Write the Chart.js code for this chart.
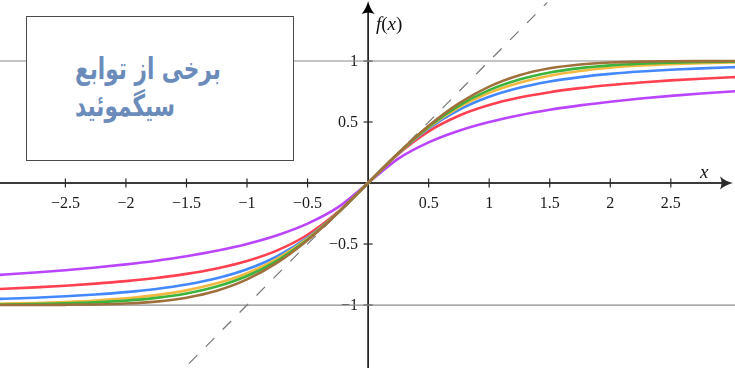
<!DOCTYPE html>
<html lang="fa">
<head>
    <meta charset="UTF-8">
    <title>Sigmoid functions</title>
    <script src="https://cdn.jsdelivr.net/npm/chart.js"></script>
    <style>
        * {
            margin: 0;
            padding: 0;
            box-sizing: border-box;
        }
        body {
            width: 735px;
            height: 368px;
            overflow: hidden;
            background: #fff;
        }
        .wrap {
            position: relative;
            width: 735px;
            height: 368px;
        }
        canvas {
            position: absolute;
            left: 0;
            top: 0;
        }
        .box {
            position: absolute;
            left: 26px;
            top: 16px;
            width: 268px;
            height: 145px;
            border: 1.5px solid #4a4a4a;
            background: #fff;
        }
        .box p {
            position: absolute;
            left: 48px;
            top: 33px;
            direction: rtl;
            text-align: left;
            font-family: 'DejaVu Sans', sans-serif;
            font-weight: bold;
            font-size: 30px;
            line-height: 37px;
            color: #6b8cba;
            white-space: nowrap;
            transform: scaleX(0.72);
            transform-origin: left top;
        }
        .lbl {
            position: absolute;
            font-family: 'Liberation Serif', serif;
            font-size: 19px;
            color: #111;
        }
    </style>
</head>
<body>
    <div class="wrap">
        <canvas id="chart" width="735" height="368"></canvas>
        <div class="box"><p>برخی از توابع<br>سیگموئید</p></div>
        <div class="lbl" style="left:376px; top:13px;"><i>f</i>(<i>x</i>)</div>
        <div class="lbl" style="left:700px; top:161px;"><i>x</i></div>
    </div>
    <script>
        // sample positions along x
        const xs = [-3.25, -3, -2.75, -2.5, -2.25, -2, -1.75, -1.5, -1.25, -1, -0.75, -0.5, -0.25, 0,
            0.25, 0.5, 0.75, 1, 1.25, 1.5, 1.75, 2, 2.25, 2.5, 2.75, 3, 3.25];

        // curves (brown is the steepest, purple the flattest)
        const brown = [-1, -0.9998, -0.9994, -0.9983, -0.9952, -0.9878, -0.9717, -0.9399, -0.8828, -0.7899, -0.6528, -0.4691, -0.246, 0,
            0.246, 0.4691, 0.6528, 0.7899, 0.8828, 0.9399, 0.9717, 0.9878, 0.9952, 0.9983, 0.9994, 0.9998, 1];
        const green = [-0.997, -0.9951, -0.9919, -0.9866, -0.978, -0.964, -0.9414, -0.9051, -0.8483, -0.7616, -0.6351, -0.4621, -0.2449, 0,
            0.2449, 0.4621, 0.6351, 0.7616, 0.8483, 0.9051, 0.9414, 0.964, 0.978, 0.9866, 0.9919, 0.9951, 0.997];
        const yellow = [-0.9924, -0.9887, -0.9828, -0.9748, -0.9627, -0.945, -0.9188, -0.8797, -0.8224, -0.7391, -0.6198, -0.4554, -0.2438, 0,
            0.2438, 0.4554, 0.6198, 0.7391, 0.8224, 0.8797, 0.9188, 0.945, 0.9627, 0.9748, 0.9828, 0.9887, 0.9924];
        const blue = [-0.9558, -0.9487, -0.9398, -0.9285, -0.9138, -0.8944, -0.8682, -0.8321, -0.7809, -0.7071, -0.6, -0.4472, -0.2425, 0,
            0.2425, 0.4472, 0.6, 0.7071, 0.7809, 0.8321, 0.8682, 0.8944, 0.9138, 0.9285, 0.9398, 0.9487, 0.9558];
        const red = [-0.8768, -0.8669, -0.8552, -0.8413, -0.8245, -0.8038, -0.7778, -0.7445, -0.7001, -0.6391, -0.5519, -0.4239, -0.2382, 0,
            0.2382, 0.4239, 0.5519, 0.6391, 0.7001, 0.7445, 0.7778, 0.8038, 0.8245, 0.8413, 0.8552, 0.8669, 0.8768];
        const purple = [-0.7647, -0.75, -0.7333, -0.7143, -0.6923, -0.6667, -0.6364, -0.6, -0.5556, -0.5, -0.4286, -0.3333, -0.2, 0,
            0.2, 0.3333, 0.4286, 0.5, 0.5556, 0.6, 0.6364, 0.6667, 0.6923, 0.7143, 0.7333, 0.75, 0.7647];

        // helper lines: horizontal asymptotes and dashed y = x
        const asymptotes = [1, -1];
        const diagX = [-1.48, 1.48];

        const xTicks = [-2.5, -2, -1.5, -1, -0.5, 0.5, 1, 1.5, 2, 2.5];
        const yTicks = [1, 0.5, -0.5, -1];

        function pts(ys) {
            return xs.map((x, i) => ({ x: x, y: ys[i] }));
        }
        function fmt(v) {
            return (v < 0 ? '\u2212' : '') + Math.abs(v);
        }

        const curve = (data, color) => ({
            data: pts(data),
            borderColor: color,
            borderWidth: 2.6,
            cubicInterpolationMode: 'monotone',
            pointRadius: 0
        });

        const datasets = [
            curve(brown, '#a0703c'),
            curve(green, '#3cb43c'),
            curve(yellow, '#f2b840'),
            curve(blue, '#4488ff'),
            curve(red, '#ff4050'),
            curve(purple, '#bb44ff'),
            {
                data: diagX.map(v => ({ x: v, y: v })),
                borderColor: '#777',
                borderWidth: 1.2,
                borderDash: [12, 12],
                pointRadius: 0
            }
        ];
        asymptotes.forEach(a => datasets.push({
            data: [{ x: -3.5, y: a }, { x: 3.5, y: a }],
            borderColor: '#8a8a8a',
            borderWidth: 1.2,
            pointRadius: 0
        }));

        function line(ctx, x1, y1, x2, y2) {
            ctx.beginPath();
            ctx.moveTo(x1, y1);
            ctx.lineTo(x2, y2);
            ctx.stroke();
        }

        const axesPlugin = {
            id: 'axes',
            beforeDatasetsDraw(chart) {
                const { ctx, scales: { x, y } } = chart;
                const x0 = x.getPixelForValue(0);
                const y0 = y.getPixelForValue(0);
                ctx.save();
                ctx.strokeStyle = '#3a3a3a';
                ctx.lineWidth = 2;
                line(ctx, 0, y0, chart.width - 8, y0);
                ctx.strokeStyle = '#000';
                ctx.lineWidth = 1.5;
                line(ctx, x0, chart.height, x0, 8);

                ctx.font = '16px "Liberation Serif", serif';
                ctx.fillStyle = '#1a1a1a';
                ctx.lineWidth = 1.2;
                ctx.strokeStyle = '#2a2a2a';
                ctx.textAlign = 'center';
                ctx.textBaseline = 'middle';
                xTicks.forEach(v => {
                    const px = x.getPixelForValue(v);
                    line(ctx, px, y0 - 4.5, px, y0 + 4.5);
                    ctx.fillText(fmt(v), px, y0 + 21);
                });
                ctx.textAlign = 'right';
                yTicks.forEach(v => {
                    const py = y.getPixelForValue(v);
                    line(ctx, x0 - 4.5, py, x0 + 4.5, py);
                    ctx.fillText(fmt(v), x0 - 10, py + 1);
                });
                ctx.restore();
            },
            afterDatasetsDraw(chart) {
                const { ctx, scales: { x, y } } = chart;
                const x0 = x.getPixelForValue(0);
                const y0 = y.getPixelForValue(0);
                ctx.save();
                // x arrow
                const tx = chart.width - 2;
                ctx.fillStyle = '#2a2a2a';
                ctx.beginPath();
                ctx.moveTo(tx, y0);
                ctx.quadraticCurveTo(tx - 7, y0 - 1.5, tx - 13, y0 - 6.5);
                ctx.quadraticCurveTo(tx - 10, y0, tx - 13, y0 + 6.5);
                ctx.quadraticCurveTo(tx - 7, y0 + 1.5, tx, y0);
                ctx.fill();
                // y arrow
                const ty = 1;
                ctx.fillStyle = '#000';
                ctx.beginPath();
                ctx.moveTo(x0, ty);
                ctx.quadraticCurveTo(x0 - 1.5, ty + 7, x0 - 6.5, ty + 13);
                ctx.quadraticCurveTo(x0, ty + 10, x0 + 6.5, ty + 13);
                ctx.quadraticCurveTo(x0 + 1.5, ty + 7, x0, ty);
                ctx.fill();
                ctx.restore();
            }
        };

        new Chart(document.getElementById('chart').getContext('2d'), {
            type: 'line',
            data: { datasets: datasets },
            options: {
                responsive: false,
                animation: false,
                layout: { padding: 0 },
                plugins: {
                    legend: { display: false },
                    tooltip: { enabled: false }
                },
                scales: {
                    x: { type: 'linear', min: -3.04, max: 3.03, display: false },
                    y: { type: 'linear', min: -1.516, max: 1.5, display: false }
                }
            },
            plugins: [axesPlugin]
        });
    </script>
</body>
</html>
